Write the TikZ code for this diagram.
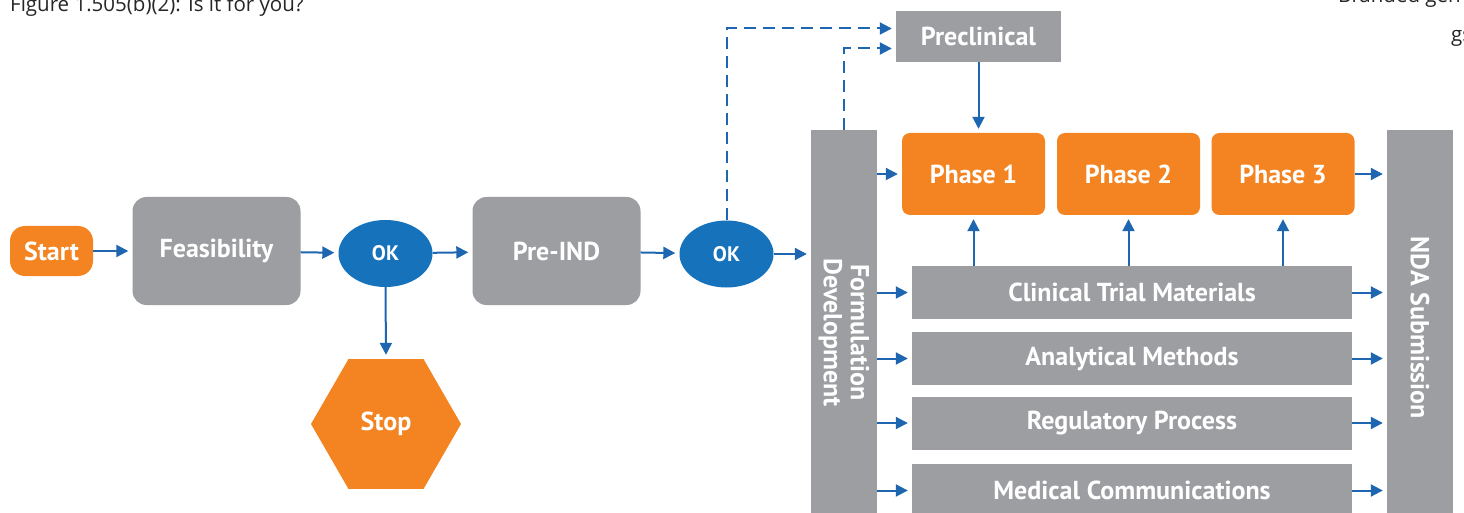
\documentclass[tikz,border=0pt]{standalone}
\usepackage{fontspec}
\setmainfont{PT Sans}
\newfontfamily\capfont{Open Sans}
\usetikzlibrary{shapes.geometric,arrows.meta}

\definecolor{orangefill}{HTML}{F38421}
\definecolor{grayfill}{HTML}{9D9EA2}
\definecolor{okfill}{HTML}{1572BB}
\definecolor{linkblue}{HTML}{1F66B0}

\begin{document}
\begin{tikzpicture}[x=1pt, y=-1pt,
		box/.style={text=white, inner sep=0pt, font=\bfseries\fontsize{26}{28}\selectfont},
		startbox/.style={box, fill=orangefill, rounded corners=15pt, minimum width=83pt, minimum height=50pt},
		process/.style={box, fill=grayfill, rounded corners=14pt, minimum width=168pt, minimum height=108pt},
		decision/.style={box, ellipse, fill=okfill, minimum width=94pt, minimum height=67pt, font=\bfseries\fontsize{21}{23}\selectfont},
		phase/.style={box, fill=orangefill, rounded corners=8pt, minimum width=143pt, minimum height=82pt},
		track/.style={box, fill=grayfill, minimum width=440pt, minimum height=53pt},
		column/.style={box, fill=grayfill, rotate=-90, align=center, font=\bfseries\fontsize{26}{27}\selectfont},
		pagetext/.style={anchor=base west, inner sep=0pt, font=\capfont\fontsize{20.5}{22}\selectfont, text=black!85},
		flow/.style={draw=linkblue, line width=2pt, -{Triangle[length=12pt,width=12pt]}, shorten >=4pt},
		loopback/.style={flow, dash pattern=on 12pt off 7pt}]
		  % Page frame
		  \useasboundingbox (0,0) rectangle (1464,513);
		  \clip (0,0) rectangle (1464,513);
		  \fill[white] (0,0) rectangle (1464,513);
		
		  % Page text cut by the frame
		  \node[pagetext] (caption) at (10,12) {Figure 1.505(b)(2): Is it for you?};
		  \node[pagetext] (branded) at (1338,3) {Branded gen};
		  \node[pagetext] (gsfrag) at (1451,42) {gs};
		
		  % Screening row
		  \node[startbox] (start) at (51.5,251) {Start};
		  \node[process] (feasible) at (216.5,251) {Feasibility};
		  \node[decision] (okone) at (385.5,253.5) {OK};
		  \node[box, regular polygon, regular polygon sides=6, minimum size=150pt, fill=orangefill] (stop) at (386,424) {Stop};
		  \node[process] (preind) at (556.5,251) {Pre-IND};
		  \node[decision] (oktwo) at (726.5,254) {OK};
		
		  % Side columns
		  \node[column, minimum width=405pt, minimum height=66pt] (formdev) at (844,332.5) {Formulation\\Development};
		  \node[column, minimum width=396pt, minimum height=66pt] (nda) at (1420,328) {NDA Submission};
		
		  % Preclinical and phases
		  \node[box, fill=grayfill, minimum width=165pt, minimum height=51pt] (preclin) at (978.5,36.5) {Preclinical};
		  \node[phase] (phaseone) at (973.5,174) {Phase 1};
		  \node[phase] (phasetwo) at (1128.5,174) {Phase 2};
		  \node[phase] (phasethree) at (1283,174) {Phase 3};
		
		  % Support tracks
		  \node[track] (ctm) at (1132,292.5) {Clinical Trial Materials};
		  \node[track] (methods) at (1132,358.5) {Analytical Methods};
		  \node[track] (regproc) at (1132,423) {Regulatory Process};
		  \node[track] (medcomm) at (1132,490.5) {Medical Communications};
		
		  % Main flow
		  \draw[flow] (start) -- (feasible);
		  \draw[flow] (feasible) -- (okone);
		  \draw[flow] (okone) -- (preind);
		  \draw[flow] (preind) -- (oktwo);
		  \draw[flow] (okone.south) -- (stop.north);
		  \draw[flow] (oktwo.east) -- (oktwo.east -| formdev.south);
		
		  % Back to preclinical
		  \draw[loopback] (oktwo.north) |- ([yshift=8pt]preclin.west);
		  \draw[loopback] (formdev.west) |- ([yshift=-12pt]preclin.west);
		  \draw[flow] (preclin.south) -- (preclin.south |- phaseone.north);
		
		  % Into and out of the columns
		  \draw[flow] (phaseone.west -| formdev.north) -- (phaseone.west);
		  \draw[flow] (phasethree.east) -- (phasethree.east -| nda.south);
		  \foreach \t in {ctm,methods,regproc,medcomm} {
		    \draw[flow] (\t.west -| formdev.north) -- (\t.west);
		    \draw[flow] (\t.east) -- (\t.east -| nda.south);
		  }
		
		  % Materials feed the phases
		  \draw[flow] (ctm.north -| phaseone.south) -- (phaseone.south);
		  \draw[flow] (ctm.north -| phasetwo.south) -- (phasetwo.south);
		  \draw[flow] (ctm.north -| phasethree.south) -- (phasethree.south);
		\end{tikzpicture}
\end{document}
